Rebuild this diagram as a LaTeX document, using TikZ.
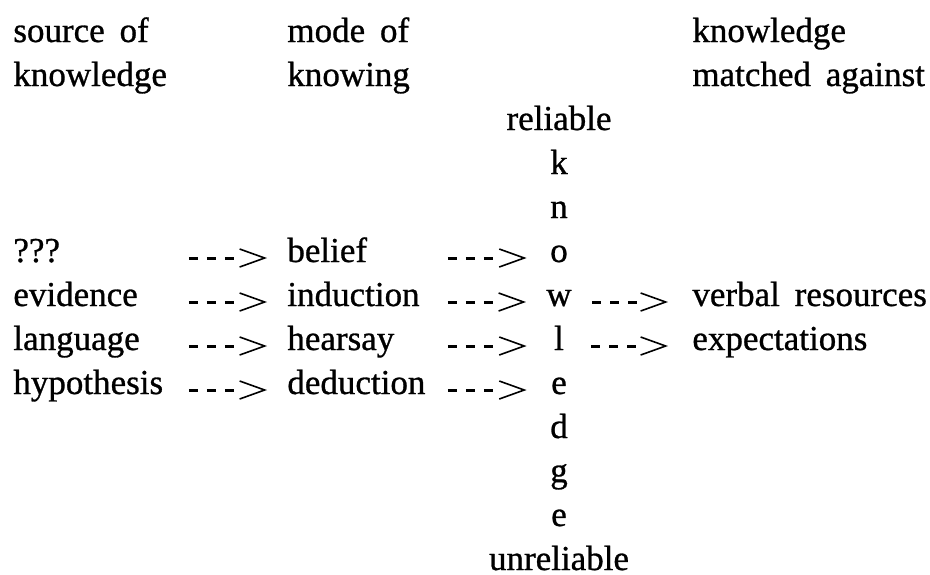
\documentclass[tikz,border=0pt]{standalone}
\usepackage{fontspec}
\setmainfont{Liberation Serif}[WordSpace=1.7, FakeBold=0.8]
\usetikzlibrary{arrows.meta}

\tikzset{
  cell/.style={inner sep=0pt, text height=0.7em, text depth=0.3em},
  source/.style={cell, anchor=base west, text width=77.5pt, align=left},
  mode/.style={cell, anchor=base west, text width=70pt, align=left},
  letter/.style={cell, anchor=base, minimum width=12pt},
  target/.style={cell, anchor=base west, inner xsep=2pt},
  heading/.style={anchor=base west, inner sep=0pt, align=left},
  dasharrow/.style={line width=1.5pt,
    dash pattern=on 4.5pt off 4.5pt on 4.5pt off 4.5pt on 4.5pt off 30pt,
    -{Straight Barb[length=12.5pt, width=9pt, line width=0.8pt]},
    shorten <=10pt, shorten >=10pt}
}

\begin{document}
\begin{tikzpicture}[x=0.5pt, y=-0.5pt, font=\fontsize{17.5}{22}\selectfont]

    \useasboundingbox (0,0) rectangle (930,574);

    % headings (base is the second line)
    \node[heading] (srchead)   at (13,86)  {source of\\knowledge};
    \node[heading] (modehead)  at (287,86) {mode of\\knowing};
    \node[heading] (matchhead) at (692,86) {knowledge\\matched against};

    % the word knowledge, top to bottom
    \node[anchor=base, inner sep=0pt] (rel) at (559,130) {reliable};
    \node[letter] (ltr3)  at (559,174) {k};
    \node[letter] (ltr4)  at (559,218) {n};
    \node[letter] (ltr5)  at (559,262) {o};
    \node[letter] (ltr6)  at (559,306) {w};
    \node[letter] (ltr7)  at (559,350) {l};
    \node[letter] (ltr8)  at (559,394) {e};
    \node[letter] (ltr9)  at (559,438) {d};
    \node[letter] (ltr10) at (559,482) {g};
    \node[letter] (ltr11) at (559,526) {e};
    \node[anchor=base, inner sep=0pt] (unrel) at (559,570) {unreliable};

    % sources and modes
    \node[source] (src5) at (13,262) {???};
    \node[source] (src6) at (13,306) {evidence};
    \node[source] (src7) at (13,350) {language};
    \node[source] (src8) at (13,394) {hypothesis};

    \node[mode] (mode5) at (287,262) {belief};
    \node[mode] (mode6) at (287,306) {induction};
    \node[mode] (mode7) at (287,350) {hearsay};
    \node[mode] (mode8) at (287,394) {deduction};

    \node[target] (match6) at (688,306) {verbal resources};
    \node[target] (match7) at (688,350) {expectations};

    \draw[dasharrow] (src5) -- (mode5);
    \draw[dasharrow] (src6) -- (mode6);
    \draw[dasharrow] (src7) -- (mode7);
    \draw[dasharrow] (src8) -- (mode8);

    \draw[dasharrow] (mode5) -- (ltr5);
    \draw[dasharrow] (mode6) -- (ltr6);
    \draw[dasharrow] (mode7) -- (ltr7);
    \draw[dasharrow] (mode8) -- (ltr8);

    \draw[dasharrow] (ltr6) -- (match6);
    \draw[dasharrow] (ltr7) -- (match7);
\end{tikzpicture}
\end{document}
